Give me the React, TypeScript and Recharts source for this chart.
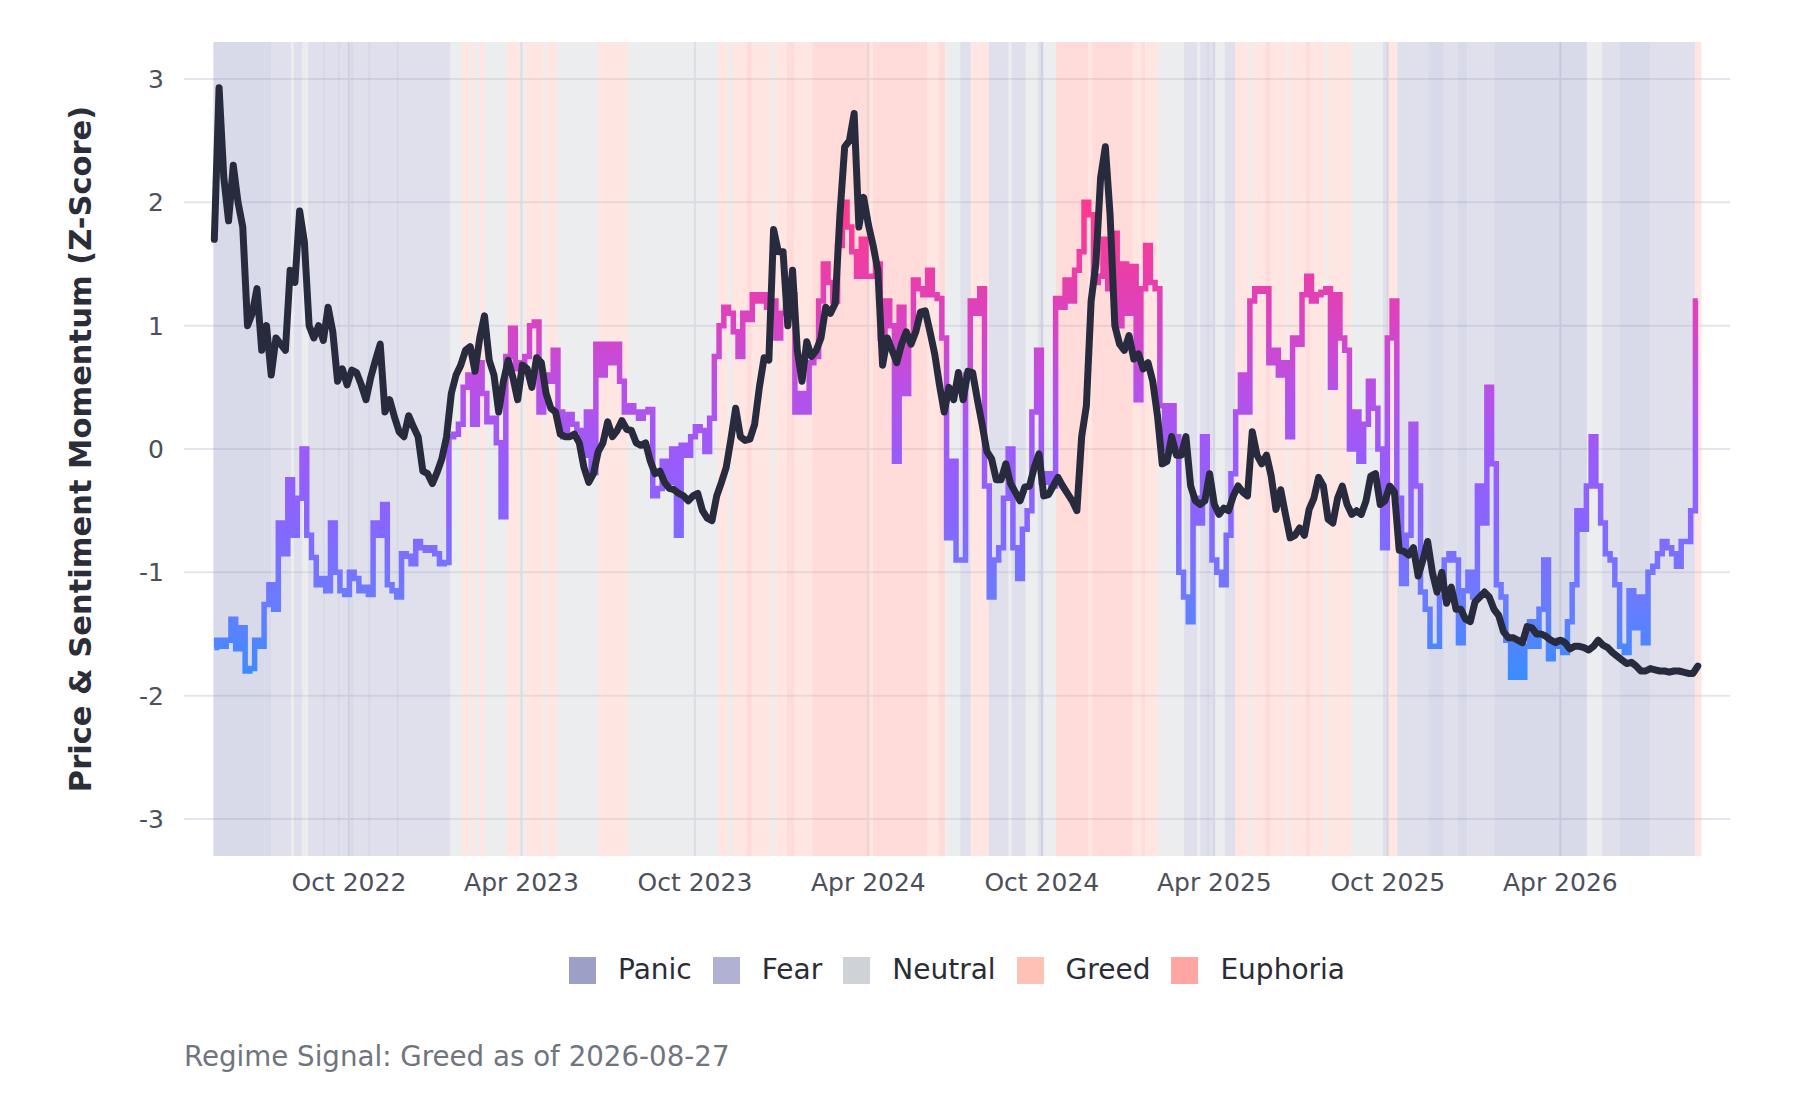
import React from 'react'
import {
  ComposedChart,
  Line,
  XAxis,
  YAxis,
  CartesianGrid,
  ReferenceArea,
} from 'recharts'

const SERIES_START = '2022-05-12'
const STEP_DAYS = 5

const PRICE_MOMENTUM = [
  1.7, 2.93, 2.2, 1.85, 2.3, 2.0, 1.8, 1.0, 1.1, 1.3,
  0.8, 1.0, 0.6, 0.9, 0.85, 0.8, 1.45, 1.35, 1.93, 1.68,
  1.0, 0.9, 1.0, 0.88, 1.15, 0.95, 0.55, 0.65, 0.52, 0.64,
  0.62, 0.52, 0.4, 0.58, 0.72, 0.85, 0.3, 0.4, 0.26, 0.14,
  0.1, 0.27, 0.18, 0.1, -0.18, -0.2, -0.28, -0.19, -0.08, 0.1,
  0.45, 0.6, 0.68, 0.8, 0.83, 0.63, 0.9, 1.08, 0.72, 0.6,
  0.3, 0.55, 0.72, 0.58, 0.4, 0.68, 0.65, 0.5, 0.74, 0.7,
  0.45, 0.33, 0.3, 0.12, 0.1, 0.1, 0.12, 0.05, -0.15, -0.27,
  -0.2, -0.02, 0.05, 0.22, 0.1, 0.15, 0.23, 0.16, 0.15, 0.05,
  0.03, 0.05, -0.1, -0.2, -0.18, -0.27, -0.32, -0.33, -0.36, -0.38,
  -0.42, -0.38, -0.36, -0.5, -0.56, -0.58, -0.38, -0.27, -0.15, 0.08,
  0.33, 0.1, 0.07, 0.08, 0.2, 0.5, 0.74, 0.72, 1.78, 1.6,
  1.6, 1.0, 1.45, 0.8, 0.55, 0.87, 0.75, 0.8, 0.9, 1.15,
  1.1, 1.18, 1.9, 2.45, 2.5, 2.72, 1.8, 2.04, 1.82, 1.65,
  1.45, 0.68, 0.9, 0.8, 0.7, 0.85, 0.95, 0.85, 0.95, 1.11,
  1.12, 0.95, 0.77, 0.52, 0.3, 0.5, 0.4, 0.62, 0.4, 0.63,
  0.62, 0.4, 0.2, -0.02, -0.08, -0.25, -0.25, -0.12, -0.28, -0.35,
  -0.42, -0.31, -0.3, -0.15, -0.04, -0.38, -0.37, -0.3, -0.23, -0.3,
  -0.36, -0.42, -0.5, 0.1, 0.35, 1.2, 1.5, 2.2, 2.45, 1.9,
  1.0, 0.85, 0.8, 0.92, 0.73, 0.77, 0.65, 0.7, 0.55, 0.27,
  -0.12, -0.1, 0.1, -0.05, -0.05, 0.1, -0.3, -0.42, -0.45, -0.42,
  -0.2, -0.45, -0.53, -0.48, -0.5, -0.38, -0.3, -0.35, -0.38, 0.14,
  -0.05, -0.12, -0.05, -0.22, -0.49, -0.33, -0.53, -0.72, -0.7, -0.64,
  -0.7, -0.49, -0.4, -0.23, -0.3, -0.57, -0.6, -0.4, -0.3, -0.45,
  -0.53, -0.5, -0.53, -0.42, -0.22, -0.2, -0.45, -0.42, -0.3, -0.35,
  -0.82, -0.83, -0.86, -0.8, -1.03, -0.9, -0.75, -1.0, -1.16, -1.0,
  -1.25, -1.12, -1.3, -1.3, -1.38, -1.4, -1.24, -1.2, -1.16, -1.2,
  -1.3, -1.35, -1.48, -1.53, -1.53, -1.55, -1.57, -1.44, -1.45, -1.5,
  -1.5, -1.52, -1.55, -1.57, -1.55, -1.57, -1.62, -1.6, -1.6, -1.61,
  -1.63, -1.6, -1.55, -1.59, -1.61, -1.65, -1.68, -1.71, -1.74, -1.73,
  -1.76, -1.8, -1.8, -1.78, -1.79, -1.8, -1.8, -1.81, -1.8, -1.8,
  -1.81, -1.82, -1.82, -1.76,
]

const SENTIMENT_MOMENTUM = [
  -1.61, -1.55, -1.6, -1.55, -1.38, -1.62, -1.45, -1.8, -1.78, -1.55,
  -1.6, -1.26, -1.1, -1.3, -0.6, -0.85, -0.25, -0.7, -0.4, 0.0,
  -0.7, -0.88, -1.1, -1.05, -1.15, -0.6, -1.0, -1.15, -1.18, -1.0,
  -1.05, -1.15, -1.12, -1.18, -0.6, -0.7, -0.45, -1.1, -1.15, -1.2,
  -0.85, -0.87, -0.93, -0.75, -0.8, -0.82, -0.8, -0.85, -0.93, -0.92,
  0.1, 0.12, 0.2, 0.5, 0.6, 0.2, 0.7, 0.45, 0.22, 0.25,
  0.05, -0.55, 0.75, 0.98, 0.65, 0.7, 0.75, 1.0, 1.03, 0.3,
  0.6, 0.55, 0.8, 0.3, 0.1, 0.28, 0.2, 0.15, -0.05, 0.3,
  -0.19, 0.85, 0.6, 0.85, 0.7, 0.85, 0.55, 0.3, 0.35, 0.3,
  0.25, 0.3, 0.32, -0.38, -0.32, -0.1, -0.27, 0.0, -0.7, 0.03,
  -0.05, 0.1, 0.18, 0.15, -0.02, 0.25, 0.75, 1.0, 1.15, 1.1,
  0.95, 0.75, 1.1, 1.05, 1.25, 1.2, 1.25, 1.15, 1.2, 0.9,
  1.1, 1.15, 1.25, 0.3, 0.45, 0.3, 0.7, 0.75, 1.2, 1.5,
  1.35, 1.2, 1.65, 2.0, 1.8, 1.6, 1.4, 1.7, 1.4, 1.4,
  1.5, 0.9, 1.2, 1.0, -0.1, 1.15, 0.45, 0.9, 1.37, 1.3,
  1.25, 1.45, 1.25, 1.22, 0.9, -0.72, -0.1, -0.9, -0.9, 0.6,
  1.2, 1.1, 1.3, -0.3, -1.2, -0.9, -0.8, -0.4, 0.0, -0.8,
  -1.05, -0.65, -0.5, 0.3, 0.8, -0.27, -0.2, -0.3, 1.22, 1.15,
  1.37, 1.2, 1.45, 1.6, 2.0, 1.9, 1.35, 1.4, 1.7, 1.3,
  1.75, 1.0, 1.5, 1.1, 1.48, 0.4, 1.3, 1.65, 1.35, 1.3,
  0.35, 0.0, 0.35, 0.1, -1.0, -1.2, -1.4, -0.4, -0.6, 0.1,
  -0.3, -0.9, -1.0, -1.1, -0.7, -0.2, 0.3, 0.6, 0.3, 1.2,
  1.3, 1.28, 1.3, 0.7, 0.8, 0.6, 0.7, 0.1, 0.9, 0.85,
  1.25, 1.4, 1.2, 1.25, 1.27, 1.3, 0.5, 1.25, 0.9, 0.8,
  0.0, 0.3, -0.1, 0.2, 0.55, 0.33, 0.0, -0.8, 0.9, 1.2,
  -0.4, -1.09, -0.7, 0.2, -0.3, -1.16, -1.3, -1.6, -1.6, -1.2,
  -0.9, -0.85, -0.9, -1.57, -1.15, -1.0, -1.2, -0.3, -0.6, 0.5,
  -0.12, -1.1, -1.2, -1.55, -1.85, -1.55, -1.85, -1.6, -1.4, -1.6,
  -1.3, -0.9, -1.7, -1.6, -1.55, -1.65, -1.4, -1.1, -0.5, -0.65,
  -0.3, 0.1, -0.3, -0.6, -0.85, -0.9, -1.1, -1.6, -1.65, -1.15,
  -1.45, -1.2, -1.57, -1.0, -0.95, -0.85, -0.75, -0.8, -0.85, -0.95,
  -0.75, -0.75, -0.5, 1.2,
]

const X_TICKS = [
  '2022-10-01', '2023-04-01', '2023-10-01', '2024-04-01',
  '2024-10-01', '2025-04-01', '2025-10-01', '2026-04-01',
]
const X_RANGE = ['2022-04-10', '2026-09-27']
const Y_TICKS = [-3, -2, -1, 0, 1, 2, 3]

const REGIMES = ['Panic', 'Fear', 'Neutral', 'Greed', 'Euphoria']
const REGIME_COLORS: Record<string, string> = {
  Panic: '#9e9fc7',
  Fear: '#b1b1d3',
  Neutral: '#cfd3d8',
  Greed: '#ffc0b6',
  Euphoria: '#ffa5a3',
}

// regime bands: each one runs until the next start
const REGIME_STARTS = [
  '2022-05-11', '2022-07-11', '2022-08-01', '2022-08-04', '2022-08-13',
  '2022-08-19', '2022-09-03', '2022-09-06', '2022-09-19', '2022-09-22',
  '2022-10-03', '2022-10-06', '2022-10-21', '2022-10-24', '2022-11-20',
  '2022-11-23', '2023-01-16', '2023-01-28', '2023-02-05', '2023-02-08',
  '2023-02-12', '2023-02-16', '2023-02-22', '2023-03-16', '2023-03-30',
  '2023-04-05', '2023-04-24', '2023-04-27', '2023-05-09', '2023-06-21',
  '2023-07-23', '2023-10-25', '2023-11-05', '2023-11-09', '2023-11-25',
  '2023-11-30', '2023-12-20', '2023-12-24', '2024-01-06', '2024-01-14',
  '2024-02-02', '2024-04-01', '2024-04-06', '2024-06-02', '2024-06-14',
  '2024-06-21', '2024-07-07', '2024-07-18', '2024-08-06', '2024-08-27',
  '2024-08-30', '2024-09-14', '2024-09-27', '2024-10-03', '2024-10-16',
  '2024-11-19', '2024-11-23', '2025-01-05', '2025-01-14', '2025-01-18',
  '2025-02-01', '2025-02-28', '2025-03-14', '2025-03-17', '2025-03-24',
  '2025-03-27', '2025-04-01', '2025-04-12', '2025-04-23', '2025-05-08',
  '2025-05-11', '2025-05-25', '2025-05-30', '2025-06-17', '2025-06-20',
  '2025-07-07', '2025-07-11', '2025-07-27', '2025-07-30', '2025-08-24',
  '2025-09-26', '2025-10-01', '2025-10-11', '2025-11-13', '2025-11-29',
  '2025-12-14', '2025-12-24', '2026-01-22', '2026-04-29', '2026-05-15',
  '2026-06-03', '2026-07-05', '2026-08-21',
]
const REGIME_KINDS = [
  'Panic', 'Fear', 'Neutral', 'Fear', 'Neutral',
  'Fear', 'Panic', 'Fear', 'Panic', 'Fear',
  'Panic', 'Fear', 'Panic', 'Fear', 'Panic',
  'Fear', 'Neutral', 'Greed', 'Neutral', 'Greed',
  'Neutral', 'Greed', 'Neutral', 'Greed', 'Neutral',
  'Greed', 'Neutral', 'Greed', 'Neutral', 'Greed',
  'Neutral', 'Greed', 'Neutral', 'Greed', 'Euphoria',
  'Greed', 'Neutral', 'Greed', 'Euphoria', 'Greed',
  'Euphoria', 'Greed', 'Euphoria', 'Greed', 'Euphoria',
  'Neutral', 'Fear', 'Greed', 'Fear', 'Neutral',
  'Fear', 'Neutral', 'Fear', 'Neutral', 'Euphoria',
  'Greed', 'Euphoria', 'Greed', 'Euphoria', 'Greed',
  'Neutral', 'Fear', 'Neutral', 'Fear', 'Panic',
  'Fear', 'Neutral', 'Fear', 'Greed', 'Neutral',
  'Greed', 'Euphoria', 'Greed', 'Neutral', 'Greed',
  'Euphoria', 'Greed', 'Neutral', 'Greed', 'Neutral',
  'Fear', 'Greed', 'Fear', 'Panic', 'Fear',
  'Panic', 'Fear', 'Panic', 'Neutral', 'Fear',
  'Panic', 'Fear', 'Greed',
]
const REGIME_END = '2026-08-28'

// sentiment line colour by z-score value
const SENTIMENT_STOPS: [number, string][] = [
  [2.0, '#ff3a8c'],
  [1.3, '#e53fb0'],
  [1.0, '#d844c4'],
  [0.5, '#b950e6'],
  [0.0, '#9d5af8'],
  [-0.6, '#8766ff'],
  [-1.2, '#6c7bff'],
  [-1.85, '#3b8cff'],
]

const MONTHS = ['Jan', 'Feb', 'Mar', 'Apr', 'May', 'Jun', 'Jul', 'Aug', 'Sep', 'Oct', 'Nov', 'Dec']
const FONT = '"DejaVu Sans", sans-serif'
const DAY_MS = 86400000

const toMs = (d: string) => Date.parse(d + 'T00:00:00Z')

function fmtMonth(v: number) {
  const d = new Date(v)
  return `${MONTHS[d.getUTCMonth()]} ${d.getUTCFullYear()}`
}

const data = PRICE_MOMENTUM.map((p, i) => ({
  t: toMs(SERIES_START) + i * STEP_DAYS * DAY_MS,
  price: p,
  sentiment: SENTIMENT_MOMENTUM[i],
}))

const bands = REGIME_STARTS.map((s, i) => ({
  x1: toMs(s),
  x2: toMs(REGIME_STARTS[i + 1] ?? REGIME_END),
  kind: REGIME_KINDS[i],
}))

const sMax = Math.max(...SENTIMENT_MOMENTUM)
const sMin = Math.min(...SENTIMENT_MOMENTUM)
const stopOffset = (v: number) =>
  Math.min(1, Math.max(0, (sMax - v) / (sMax - sMin)))

const xTickValues = X_TICKS.map(toMs)

export default function App() {
  return (
    <div
      style={{
        position: 'absolute',
        left: 0,
        top: 0,
        width: 1800,
        height: 1100,
        background: '#fff',
        fontFamily: FONT,
      }}
    >
      <ComposedChart
        width={1800}
        height={920}
        data={data}
        margin={{ top: 42, right: 70, bottom: 14, left: 0 }}
      >
        <defs>
          <linearGradient id="sentGrad" x1="0" y1="0" x2="0" y2="1">
            {SENTIMENT_STOPS.map(([v, c]) => (
              <stop key={v} offset={stopOffset(v)} stopColor={c} />
            ))}
          </linearGradient>
        </defs>
        <CartesianGrid
          stroke="#e2e5eb"
          strokeWidth={2}
          horizontalValues={Y_TICKS}
          verticalValues={xTickValues}
        />
        <XAxis
          dataKey="t"
          type="number"
          domain={X_RANGE.map(toMs)}
          ticks={xTickValues}
          interval={0}
          tickFormatter={fmtMonth}
          tick={{ fontSize: 25, fill: '#4b505b', fontFamily: FONT }}
          tickLine={false}
          axisLine={false}
          tickSize={0}
          tickMargin={17}
          height={50}
          allowDataOverflow
        />
        <YAxis
          type="number"
          domain={[-3.3, 3.3]}
          ticks={Y_TICKS}
          interval={0}
          tick={{ fontSize: 25, fill: '#4b505b', fontFamily: FONT }}
          tickLine={false}
          axisLine={false}
          tickSize={0}
          tickMargin={20}
          width={184}
          allowDataOverflow
        />
        {bands.map((b, i) => (
          <ReferenceArea
            key={i}
            x1={b.x1}
            x2={b.x2}
            fill={REGIME_COLORS[b.kind]}
            fillOpacity={0.4}
            stroke="none"
            ifOverflow="hidden"
          />
        ))}
        <Line
          dataKey="sentiment"
          type="step"
          stroke="url(#sentGrad)"
          strokeWidth={5.5}
          dot={false}
          activeDot={false}
          isAnimationActive={false}
        />
        <Line
          dataKey="price"
          type="linear"
          stroke="#282b3e"
          strokeWidth={7}
          strokeLinejoin="round"
          strokeLinecap="round"
          dot={false}
          activeDot={false}
          isAnimationActive={false}
        />
      </ComposedChart>

      {/* axis title */}
      <div
        style={{
          position: 'absolute',
          left: 80,
          top: 449,
          transform: 'translate(-50%, -50%) rotate(-90deg)',
          whiteSpace: 'nowrap',
          fontSize: 30.5,
          fontWeight: 'bold',
          color: '#2b2e38',
        }}
      >
        Price &amp; Sentiment Momentum (Z-Score)
      </div>

      {/* Legend */}
      <div
        style={{
          position: 'absolute',
          left: 184,
          width: 1546,
          top: 956,
          display: 'flex',
          justifyContent: 'center',
          gap: 21,
          fontSize: 28,
          lineHeight: '28px',
          color: '#2a2d35',
        }}
      >
        {REGIMES.map((r) => (
          <div key={r} style={{ display: 'flex', alignItems: 'center' }}>
            <span
              style={{
                display: 'inline-block',
                width: 27,
                height: 27,
                background: REGIME_COLORS[r],
                marginRight: 22,
              }}
            />
            <span>{r}</span>
          </div>
        ))}
      </div>

      <div
        style={{
          position: 'absolute',
          left: 184,
          top: 1043,
          fontSize: 27.7,
          lineHeight: '28px',
          color: '#6f747e',
          whiteSpace: 'nowrap',
        }}
      >
        Regime Signal: Greed as of 2026-08-27
      </div>
    </div>
  )
}
